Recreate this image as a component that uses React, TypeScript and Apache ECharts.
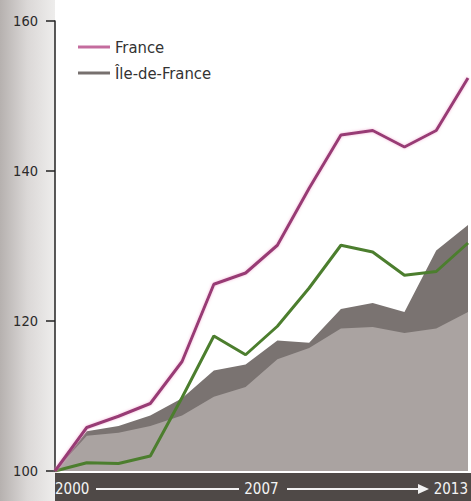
import React, { useEffect, useRef } from "react";
import * as echarts from "echarts";

const years = ["2000","2001","2002","2003","2004","2005","2006","2007","2008","2009","2010","2011","2012","2013"];
const france = [100, 105.8, 107.3, 109, 114.6, 124.9, 126.4, 130.1, 137.7, 144.8, 145.4, 143.2, 145.4, 152.4];
const autre = [100, 101.1, 101, 102, 109.8, 118, 115.5, 119.3, 124.4, 130.1, 129.2, 126.1, 126.6, 130.4];
const ileDark = [100, 105.3, 106, 107.4, 109.7, 113.4, 114.2, 117.4, 117.1, 121.6, 122.4, 121.2, 129.4, 132.8];
const ileLight = [100, 104.7, 105.1, 106, 107.4, 109.9, 111.2, 114.9, 116.4, 119, 119.2, 118.4, 119, 121.2];
const yTicks = { min: 100, max: 160, interval: 20 };
const shownYears = ["2000", "2007", "2013"];

const FONT = "'DejaVu Sans Condensed', 'Liberation Sans Narrow', sans-serif";

export default function App() {
  const ref = useRef<HTMLDivElement>(null);
  useEffect(() => {
    if (!ref.current) return;
    const chart = echarts.init(ref.current, undefined, { renderer: "svg" });
    chart.setOption({
      animation: false,
      backgroundColor: "#ffffff",
      grid: { left: 55, right: 3, top: 21, bottom: 30, containLabel: false },
      legend: {
        orient: "vertical",
        left: 73,
        top: 33,
        itemWidth: 32,
        itemHeight: 3,
        itemGap: 8,
        icon: "rect",
        textStyle: { fontFamily: FONT, fontSize: 16.5, color: "#333333", lineHeight: 18 },
        data: [
          { name: "France", itemStyle: { color: "#c46c9e" } },
          { name: "Île-de-France", itemStyle: { color: "#77706e" } },
        ],
      },
      graphic: [
        {
          type: "rect",
          z: -10,
          shape: { x: 0, y: 0, width: 55, height: 501 },
          style: {
            fill: new echarts.graphic.LinearGradient(0, 0, 1, 0, [
              { offset: 0, color: "#b6b1af" },
              { offset: 0.5, color: "#dbd8d7" },
              { offset: 1, color: "#eeedec" },
            ]),
          },
        },
        {
          type: "rect",
          z: -5,
          shape: { x: 55, y: 473, width: 416, height: 28 },
          style: { fill: "#4f4947" },
        },
        {
          type: "line",
          shape: { x1: 96, y1: 489, x2: 239, y2: 489 },
          style: { stroke: "#f2f2f2", lineWidth: 2 },
        },
        {
          type: "line",
          shape: { x1: 287, y1: 489, x2: 420, y2: 489 },
          style: { stroke: "#f2f2f2", lineWidth: 2 },
        },
        {
          type: "polygon",
          shape: { points: [[418, 484], [429, 489], [418, 494]] },
          style: { fill: "#f2f2f2" },
        },
      ],
      xAxis: {
        type: "category",
        data: years,
        boundaryGap: false,
        axisLine: { show: false },
        axisTick: { show: false },
        splitLine: { show: false },
        axisLabel: {
          interval: (_i: number, v: string) => shownYears.includes(v),
          alignMinLabel: "left",
          alignMaxLabel: "right",
          color: "#f4f4f4",
          fontFamily: FONT,
          fontSize: 15,
          margin: 10,
          formatter: (v: string) => (v === "2007" ? "{m|" + v + "}" : v),
          rich: { m: { padding: [0, 32, 0, 0], color: "#f4f4f4", fontFamily: FONT, fontSize: 15 } },
        },
      },
      yAxis: {
        type: "value",
        min: yTicks.min,
        max: yTicks.max,
        interval: yTicks.interval,
        axisLine: { show: true, lineStyle: { color: "#222222", width: 1.5 } },
        axisTick: { show: true, inside: false, length: 9, lineStyle: { color: "#222222", width: 1.5 } },
        splitLine: { show: false },
        axisLabel: { color: "#2a2a2a", fontFamily: FONT, fontSize: 14.5, margin: 17 },
      },
      series: [
        {
          name: "Île-de-France",
          type: "line",
          data: ileDark,
          symbol: "none",
          lineStyle: { width: 0 },
          itemStyle: { color: "#77706e" },
          areaStyle: { color: "#7a7371", opacity: 1 },
          z: 1,
        },
        {
          name: "Île-de-France (base)",
          type: "line",
          data: ileLight,
          symbol: "none",
          lineStyle: { width: 0 },
          itemStyle: { color: "#a9a2a0" },
          areaStyle: { color: "#aaa3a1", opacity: 1 },
          z: 2,
        },
        {
          name: "Autre",
          type: "line",
          data: autre,
          symbol: "none",
          lineStyle: { width: 3, color: "#4c7e2e" },
          itemStyle: { color: "#4c7e2e" },
          z: 3,
        },
        {
          name: "France",
          type: "line",
          data: france,
          symbol: "none",
          lineStyle: { width: 3, color: "#983a74", shadowColor: "rgba(240,150,200,0.7)", shadowBlur: 3 },
          itemStyle: { color: "#983a74" },
          z: 4,
        },
      ],
    });
    return () => chart.dispose();
  }, []);
  return <div ref={ref} style={{ width: 471, height: 501, position: "absolute", left: 0, top: 0 }} />;
}
